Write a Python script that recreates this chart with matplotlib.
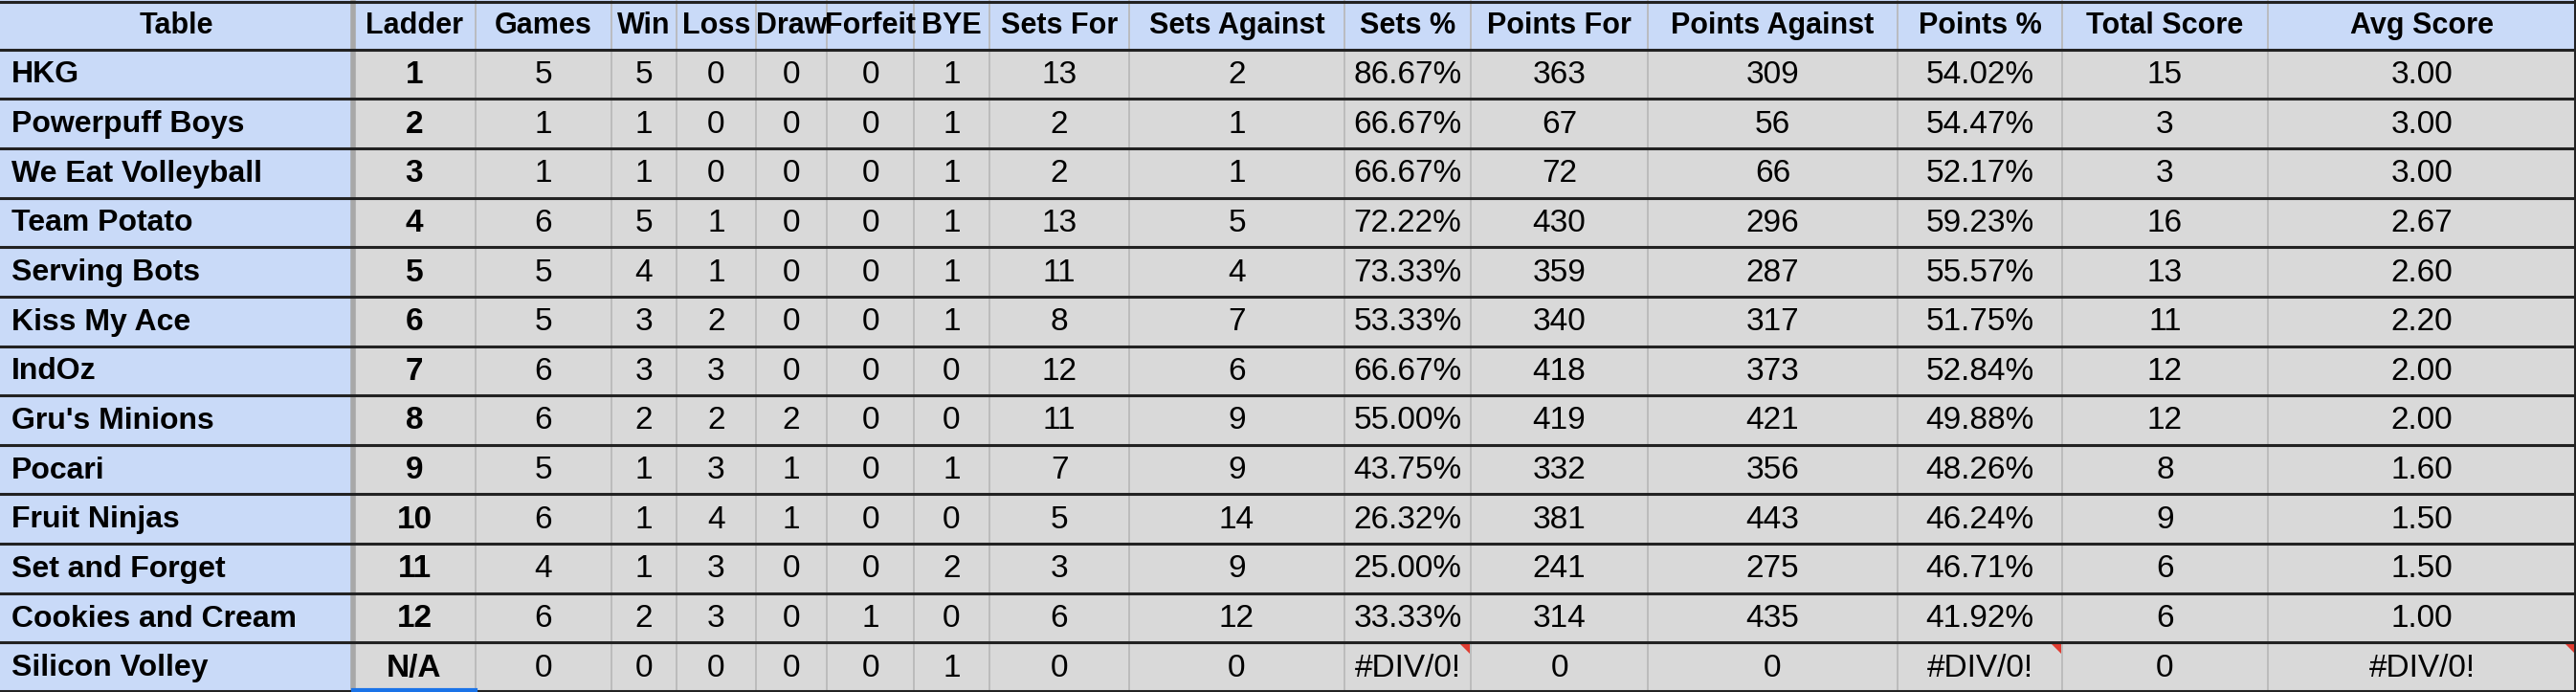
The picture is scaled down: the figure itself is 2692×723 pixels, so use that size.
import matplotlib.pyplot as plt
from matplotlib.patches import Rectangle, Polygon

plt.rcParams['font.family'] = ['Liberation Sans', 'DejaVu Sans']

headers = ["Table", "Ladder", "Games", "Win", "Loss", "Draw", "Forfeit", "BYE", "Sets For",
           "Sets Against", "Sets %", "Points For", "Points Against", "Points %", "Total Score", "Avg Score"]
teams = ["HKG", "Powerpuff Boys", "We Eat Volleyball", "Team Potato", "Serving Bots", "Kiss My Ace",
         "IndOz", "Gru's Minions", "Pocari", "Fruit Ninjas", "Set and Forget", "Cookies and Cream",
         "Silicon Volley"]
ladder = ["1", "2", "3", "4", "5", "6", "7", "8", "9", "10", "11", "12", "N/A"]
games = [5, 1, 1, 6, 5, 5, 6, 6, 5, 6, 4, 6, 0]
win = [5, 1, 1, 5, 4, 3, 3, 2, 1, 1, 1, 2, 0]
loss = [0, 0, 0, 1, 1, 2, 3, 2, 3, 4, 3, 3, 0]
draw = [0, 0, 0, 0, 0, 0, 0, 2, 1, 1, 0, 0, 0]
forfeit = [0, 0, 0, 0, 0, 0, 0, 0, 0, 0, 0, 1, 0]
bye = [1, 1, 1, 1, 1, 1, 0, 0, 1, 0, 2, 0, 1]
sets_for = [13, 2, 2, 13, 11, 8, 12, 11, 7, 5, 3, 6, 0]
sets_against = [2, 1, 1, 5, 4, 7, 6, 9, 9, 14, 9, 12, 0]
sets_pct = ["86.67%", "66.67%", "66.67%", "72.22%", "73.33%", "53.33%", "66.67%", "55.00%",
            "43.75%", "26.32%", "25.00%", "33.33%", "#DIV/0!"]
points_for = [363, 67, 72, 430, 359, 340, 418, 419, 332, 381, 241, 314, 0]
points_against = [309, 56, 66, 296, 287, 317, 373, 421, 356, 443, 275, 435, 0]
points_pct = ["54.02%", "54.47%", "52.17%", "59.23%", "55.57%", "51.75%", "52.84%", "49.88%",
              "48.26%", "46.24%", "46.71%", "41.92%", "#DIV/0!"]
total_score = [15, 3, 3, 16, 13, 11, 12, 12, 8, 9, 6, 6, 0]
avg_score = ["3.00", "3.00", "3.00", "2.67", "2.60", "2.20", "2.00", "2.00", "1.60", "1.50",
             "1.50", "1.00", "#DIV/0!"]

columns = [teams, ladder, games, win, loss, draw, forfeit, bye, sets_for, sets_against,
           sets_pct, points_for, points_against, points_pct, total_score, avg_score]

W, H = 2692, 723
edges = [0, 369, 497, 639, 707, 790, 864, 955, 1034, 1180, 1405, 1537, 1722, 1983, 2155, 2370, 2692]
nrows = len(teams) + 1
rh = H / nrows

fig = plt.figure(figsize=(W / 100, H / 100), dpi=100)
ax = fig.add_axes([0, 0, 1, 1])
ax.set_xlim(0, W)
ax.set_ylim(H, 0)
ax.axis('off')

blue = "#c9daf8"
grey = "#d9d9d9"

for c in range(len(headers)):
    x0, x1 = edges[c], edges[c + 1]
    for r in range(nrows):
        y0 = r * rh
        col = blue if (r == 0 or c == 0) else grey
        ax.add_patch(Rectangle((x0, y0), x1 - x0, rh, facecolor=col, edgecolor="none"))
        if r == 0:
            txt, weight, fs = headers[c], 'bold', 22
        else:
            txt = str(columns[c][r - 1])
            weight = 'bold' if c <= 1 else 'normal'
            fs = 23 if c == 0 else 24
        xc = x0 + 12 if (c == 0 and r > 0) else (x0 + x1) / 2
        ha = 'left' if (c == 0 and r > 0) else 'center'
        ax.text(xc, y0 + rh / 2 + 1, txt, ha=ha, va='center', fontsize=fs, fontweight=weight, color="black")
        if txt == "#DIV/0!":
            ax.add_patch(Polygon([(x1 - 12, y0 + 1), (x1 - 1, y0 + 1), (x1 - 1, y0 + 12)],
                                 closed=True, facecolor="#e03c31", edgecolor="none"))

# vertical grid lines
for x in edges[1:-1]:
    ax.plot([x, x], [0, H], color="#b7b7b7", lw=1.2)
ax.plot([edges[1], edges[1]], [0, H], color="#a8a8a8", lw=4)
# horizontal borders
for r in range(1, nrows + 1):
    y = min(r * rh, H - 1.5)
    ax.plot([0, W], [y, y], color="#222222", lw=2.2)
ax.plot([0, W], [1.5, 1.5], color="#222222", lw=2.2)
ax.plot([W - 1.5, W - 1.5], [0, H], color="#222222", lw=2.2)
# selected cell marker
ax.plot([edges[1], edges[2]], [H - 2, H - 2], color="#1a73e8", lw=3)

fig.savefig("out.png", dpi=100)
